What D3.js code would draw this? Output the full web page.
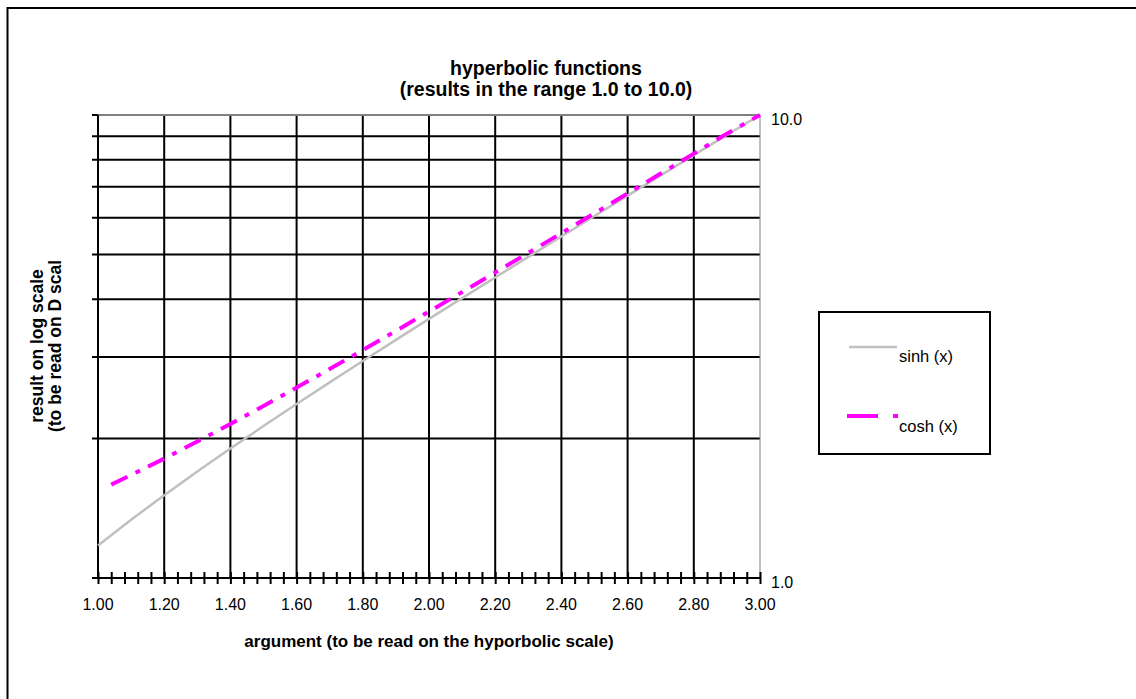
<!DOCTYPE html>
<html>
<head>
<meta charset="utf-8">
<script src="https://cdn.jsdelivr.net/npm/d3@7"></script>
<style>
  html, body { margin: 0; padding: 0; background: #fff; }
  svg text { font-family: "Liberation Sans", Arial, sans-serif; fill: #000; }
</style>
</head>
<body>
<svg width="1136" height="699"></svg>
<script>
// argument values (x) and function results
var argX = [1.0, 1.1, 1.2, 1.3, 1.4, 1.5, 1.6, 1.7, 1.8, 1.9, 2.0,
            2.1, 2.2, 2.3, 2.4, 2.5, 2.6, 2.7, 2.8, 2.9, 3.0];
var sinhY = [1.175, 1.336, 1.510, 1.698, 1.904, 2.129, 2.376, 2.646, 2.942, 3.268, 3.627,
             4.022, 4.457, 4.937, 5.466, 6.050, 6.695, 7.406, 8.192, 9.060, 10.018];
var coshX = [1.04, 1.1, 1.2, 1.3, 1.4, 1.5, 1.6, 1.7, 1.8, 1.9, 2.0,
             2.1, 2.2, 2.3, 2.4, 2.5, 2.6, 2.7, 2.8, 2.9, 3.0];
var coshY = [1.591, 1.669, 1.811, 1.971, 2.151, 2.352, 2.578, 2.828, 3.108, 3.418, 3.762,
             4.144, 4.568, 5.037, 5.557, 6.132, 6.769, 7.474, 8.253, 9.115, 10.068];

var xTicks = [1.0, 1.2, 1.4, 1.6, 1.8, 2.0, 2.2, 2.4, 2.6, 2.8, 3.0];
var yGrid = [1, 2, 3, 4, 5, 6, 7, 8, 9, 10];
var yLabels = [1, 10];

var svg = d3.select("svg");
var pLeft = 98, pRight = 760, pTop = 115, pBottom = 578;

// outer frame (only top/left visible)
svg.append("rect")
    .attr("x", 7.5).attr("y", 8)
    .attr("width", 1200).attr("height", 800)
    .attr("fill", "none").attr("stroke", "#000").attr("stroke-width", 2);

var x = d3.scaleLinear().domain([1, 3]).range([pLeft, pRight]);
var y = d3.scaleLog().domain([1, 10]).range([pBottom, pTop]);

// grid
var grid = svg.append("g");
grid.selectAll(".hg")
    .data(yGrid.filter(function(d) { return d > 1 && d < 10; }))
  .enter().append("line")
    .attr("x1", pLeft - 6).attr("x2", pRight)
    .attr("y1", function(d) { return y(d); })
    .attr("y2", function(d) { return y(d); })
    .attr("stroke", "#000").attr("stroke-width", 2);

grid.selectAll(".vg")
    .data(xTicks.filter(function(d) { return d > 1 && d < 3; }))
  .enter().append("line")
    .attr("x1", function(d) { return x(d); })
    .attr("x2", function(d) { return x(d); })
    .attr("y1", pTop).attr("y2", pBottom)
    .attr("stroke", "#000").attr("stroke-width", 2);

// plot border top/right (gray)
svg.append("line").attr("x1", pLeft).attr("x2", pRight).attr("y1", pTop).attr("y2", pTop)
    .attr("stroke", "#808080").attr("stroke-width", 2);
svg.append("line").attr("x1", pRight).attr("x2", pRight).attr("y1", pTop).attr("y2", pBottom)
    .attr("stroke", "#808080").attr("stroke-width", 1);
// top tick at 10
svg.append("line").attr("x1", pLeft - 6).attr("x2", pLeft).attr("y1", y(10)).attr("y2", y(10))
    .attr("stroke", "#000").attr("stroke-width", 2);

// y axis line
svg.append("line").attr("x1", pLeft).attr("x2", pLeft).attr("y1", pTop).attr("y2", pBottom + 1)
    .attr("stroke", "#000").attr("stroke-width", 2);

// x axis with minor ticks every 0.04
var xAxis = d3.axisBottom(x)
    .tickValues(d3.range(0, 51).map(function(i) { return 1 + i * 0.04; }))
    .tickSize(0).tickFormat("");
var gx = svg.append("g").attr("transform", "translate(0," + pBottom + ")").call(xAxis);
gx.select(".domain").attr("stroke", "#000").attr("stroke-width", 2).attr("d", "M" + (pLeft - 6) + ",0H" + pRight);
gx.selectAll(".tick line").attr("y1", -6).attr("y2", 6).attr("stroke", "#000").attr("stroke-width", 2);

svg.append("g").selectAll("text")
    .data(xTicks)
  .enter().append("text")
    .attr("x", function(d) { return x(d); })
    .attr("y", 610)
    .attr("text-anchor", "middle")
    .attr("font-size", 16)
    .text(function(d) { return d3.format(".2f")(d); });

svg.append("g").selectAll("text")
    .data(yLabels)
  .enter().append("text")
    .attr("x", 771)
    .attr("y", function(d) { return y(d) + 10; })
    .attr("font-size", 16)
    .text(function(d) { return d3.format(".1f")(d); });

// series
var sinhData = argX.map(function(d, i) { return [d, sinhY[i]]; });
var coshData = coshX.map(function(d, i) { return [d, coshY[i]]; });
var line = d3.line()
    .x(function(d) { return x(d[0]); })
    .y(function(d) { return y(Math.min(d[1], 10)); });

svg.append("path").datum(sinhData)
    .attr("d", line)
    .attr("fill", "none").attr("stroke", "#c0c0c0").attr("stroke-width", 2.5);

svg.append("path").datum(coshData)
    .attr("d", line)
    .attr("fill", "none").attr("stroke", "#ff00ff").attr("stroke-width", 4)
    .attr("stroke-dasharray", "18,9,5,9");

// titles
svg.append("text").attr("x", 546).attr("y", 75).attr("text-anchor", "middle")
    .attr("font-size", 19.5).attr("font-weight", "bold").text("hyperbolic functions");
svg.append("text").attr("x", 546).attr("y", 96).attr("text-anchor", "middle")
    .attr("font-size", 19.5).attr("font-weight", "bold").text("(results in the range 1.0 to 10.0)");

svg.append("text").attr("x", 429).attr("y", 647).attr("text-anchor", "middle")
    .attr("font-size", 17).attr("font-weight", "bold")
    .text("argument (to be read on the hyporbolic scale)");

var yt = svg.append("text").attr("transform", "translate(43,346) rotate(-90)")
    .attr("text-anchor", "middle").attr("font-size", 17.5).attr("font-weight", "bold");
yt.append("tspan").attr("x", 0).attr("y", 0).text("result on log scale");
yt.append("tspan").attr("x", 0).attr("y", 18).text("(to be read on D scal");

// legend
var lg = svg.append("g");
lg.append("rect").attr("x", 819).attr("y", 312).attr("width", 171).attr("height", 142)
    .attr("fill", "#fff").attr("stroke", "#000").attr("stroke-width", 2);
lg.append("line").attr("x1", 849).attr("x2", 897).attr("y1", 347).attr("y2", 347)
    .attr("stroke", "#c0c0c0").attr("stroke-width", 2.5);
lg.append("text").attr("x", 899).attr("y", 362).attr("font-size", 16.5).text("sinh (x)");
lg.append("line").attr("x1", 847).attr("x2", 898).attr("y1", 416).attr("y2", 416)
    .attr("stroke", "#ff00ff").attr("stroke-width", 4)
    .attr("stroke-dasharray", "31,15,5,15");
lg.append("text").attr("x", 899).attr("y", 432).attr("font-size", 16.5).text("cosh (x)");
</script>
</body>
</html>
